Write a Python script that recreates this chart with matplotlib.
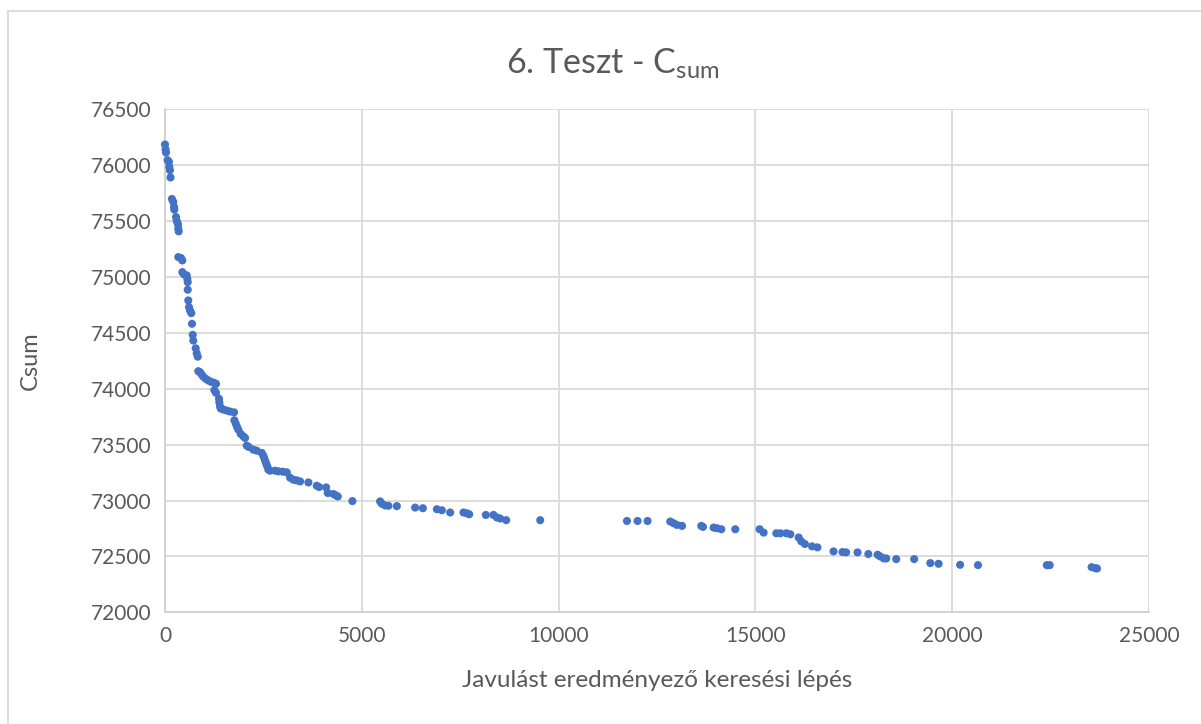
import matplotlib
matplotlib.use("Agg")
import matplotlib.pyplot as plt
from matplotlib.patches import Rectangle

plt.rcParams['font.family'] = ['Lato', 'DejaVu Sans']
plt.rcParams['mathtext.default'] = 'regular'

# Data: improving search steps vs Csum
steps = [0, 15, 25, 65, 100, 110, 125, 140, 175, 211, 229, 236, 280, 297, 330, 338, 348,
         338, 407, 440, 440, 483, 552, 567, 577, 577, 592, 610, 636, 669, 686, 704, 719,
         780, 806, 831,
         846, 890, 933, 974, 1035, 1101, 1169, 1246, 1296, 1253, 1296, 1373, 1380, 1398,
         1416, 1482, 1568, 1652, 1754, 1762, 1797, 1830, 1863, 1924, 1990, 2034, 2077,
         2128, 2245, 2331, 2458, 2499, 2524, 2550, 2575, 2600, 2626, 2669, 2796, 2880,
         2992, 3094, 3178, 3261, 3348, 3432, 3643, 3856, 3915, 4093, 4136, 4278, 4347,
         4390, 4761, 5465, 5509, 5592, 5676, 5890,
         6355, 6551, 6907, 7034, 7245, 7583, 7669, 7728, 8152, 8345, 8432, 8516, 8668,
         9533,
         11737, 12006, 12260, 12837, 12921, 13007, 13135, 13625, 13668, 13938, 14024,
         14133, 14489, 15107, 15209, 15532, 15634, 15786, 15888, 16099,
         16166, 16257, 16439, 16575, 16985, 17213, 17304, 17595, 17869, 18105, 18169,
         18260, 18324, 18579, 19034, 19444, 19654, 20200, 20655, 22404, 22477, 23542,
         23633, 23679]
csum = [76185, 76141, 76114, 76045, 76030, 75985, 75955, 75890, 75698, 75671, 75626, 75603,
        75536, 75501, 75471, 75432, 75408,
        75178, 75169, 75148, 75043, 75023, 75014, 74984, 74954, 74886, 74790, 74730,
        74700, 74676, 74581, 74482, 74431,
        74362, 74317, 74287,
        74157, 74148, 74127, 74107, 74089, 74074, 74062, 74053, 74044, 73987, 73963,
        73910, 73879, 73843, 73823, 73814, 73805, 73796, 73789, 73718, 73688, 73659,
        73634, 73596, 73574, 73560, 73491, 73479, 73455, 73446, 73426, 73401, 73377,
        73350, 73327, 73305, 73276, 73267, 73267, 73261, 73258, 73252, 73204, 73186,
        73180, 73171, 73162, 73132, 73121, 73117, 73067, 73058, 73045, 73036, 72995,
        72992, 72971, 72956, 72953, 72950,
        72937, 72931, 72922, 72913, 72893, 72893, 72886, 72877, 72871, 72871, 72848,
        72839, 72824, 72824,
        72817, 72817, 72817, 72812, 72797, 72782, 72773, 72773, 72764, 72758, 72752,
        72743, 72743, 72743, 72713, 72707, 72707, 72707, 72698, 72669,
        72635, 72611, 72590, 72581, 72545, 72539, 72536, 72536, 72521, 72515, 72500,
        72482, 72482, 72476, 72476, 72440, 72434, 72425, 72422, 72422, 72422, 72404,
        72395, 72392]

x_ticks = [0, 5000, 10000, 15000, 20000, 25000]
y_ticks = [72000, 72500, 73000, 73500, 74000, 74500, 75000, 75500, 76000, 76500]

W, H = 1201, 724
fig = plt.figure(figsize=(W / 100, H / 100), dpi=100)
fig.patch.set_facecolor('white')

# chart border
fig.patches.append(Rectangle((8 / W, -0.1), 1.2, 1 - 11 / H + 0.1, transform=fig.transFigure,
                             fill=False, edgecolor='#D9D9D9', linewidth=1.3, zorder=0))

left, right = 165 / W, 1149 / W
top, bottom = 1 - 109.3 / H, 1 - 612.3 / H
ax = fig.add_axes([left, bottom, right - left, top - bottom])

ax.scatter(steps, csum, s=34, color='#4472C4', edgecolors='none', zorder=3, clip_on=False)

ax.set_xlim(0, 25000)
ax.set_ylim(72000, 76500)
ax.set_xticks(x_ticks)
ax.set_yticks(y_ticks)
ax.set_xticklabels([str(v) for v in x_ticks])
ax.set_yticklabels([str(v) for v in y_ticks])
ax.grid(True, color='#D9D9D9', linewidth=1.3)
ax.set_axisbelow(True)
for s in ['top', 'right']:
    ax.spines[s].set_visible(False)
for s in ['left', 'bottom']:
    ax.spines[s].set_color('#D0D0D0')
    ax.spines[s].set_linewidth(1.3)
ax.tick_params(length=0, labelsize=15, colors='#595959', pad=10)

ax.set_xlabel('Javulást eredményező keresési lépés', fontsize=17.5, color='#595959', labelpad=17)
ax.set_ylabel('Csum', fontsize=17, color='#595959', labelpad=36)

fig.text(0.51, 1 - 64 / H, '6. Teszt - C$_{sum}$', ha='center', va='center',
         fontsize=24.5, color='#595959')

fig.savefig('out.png', dpi=100)
